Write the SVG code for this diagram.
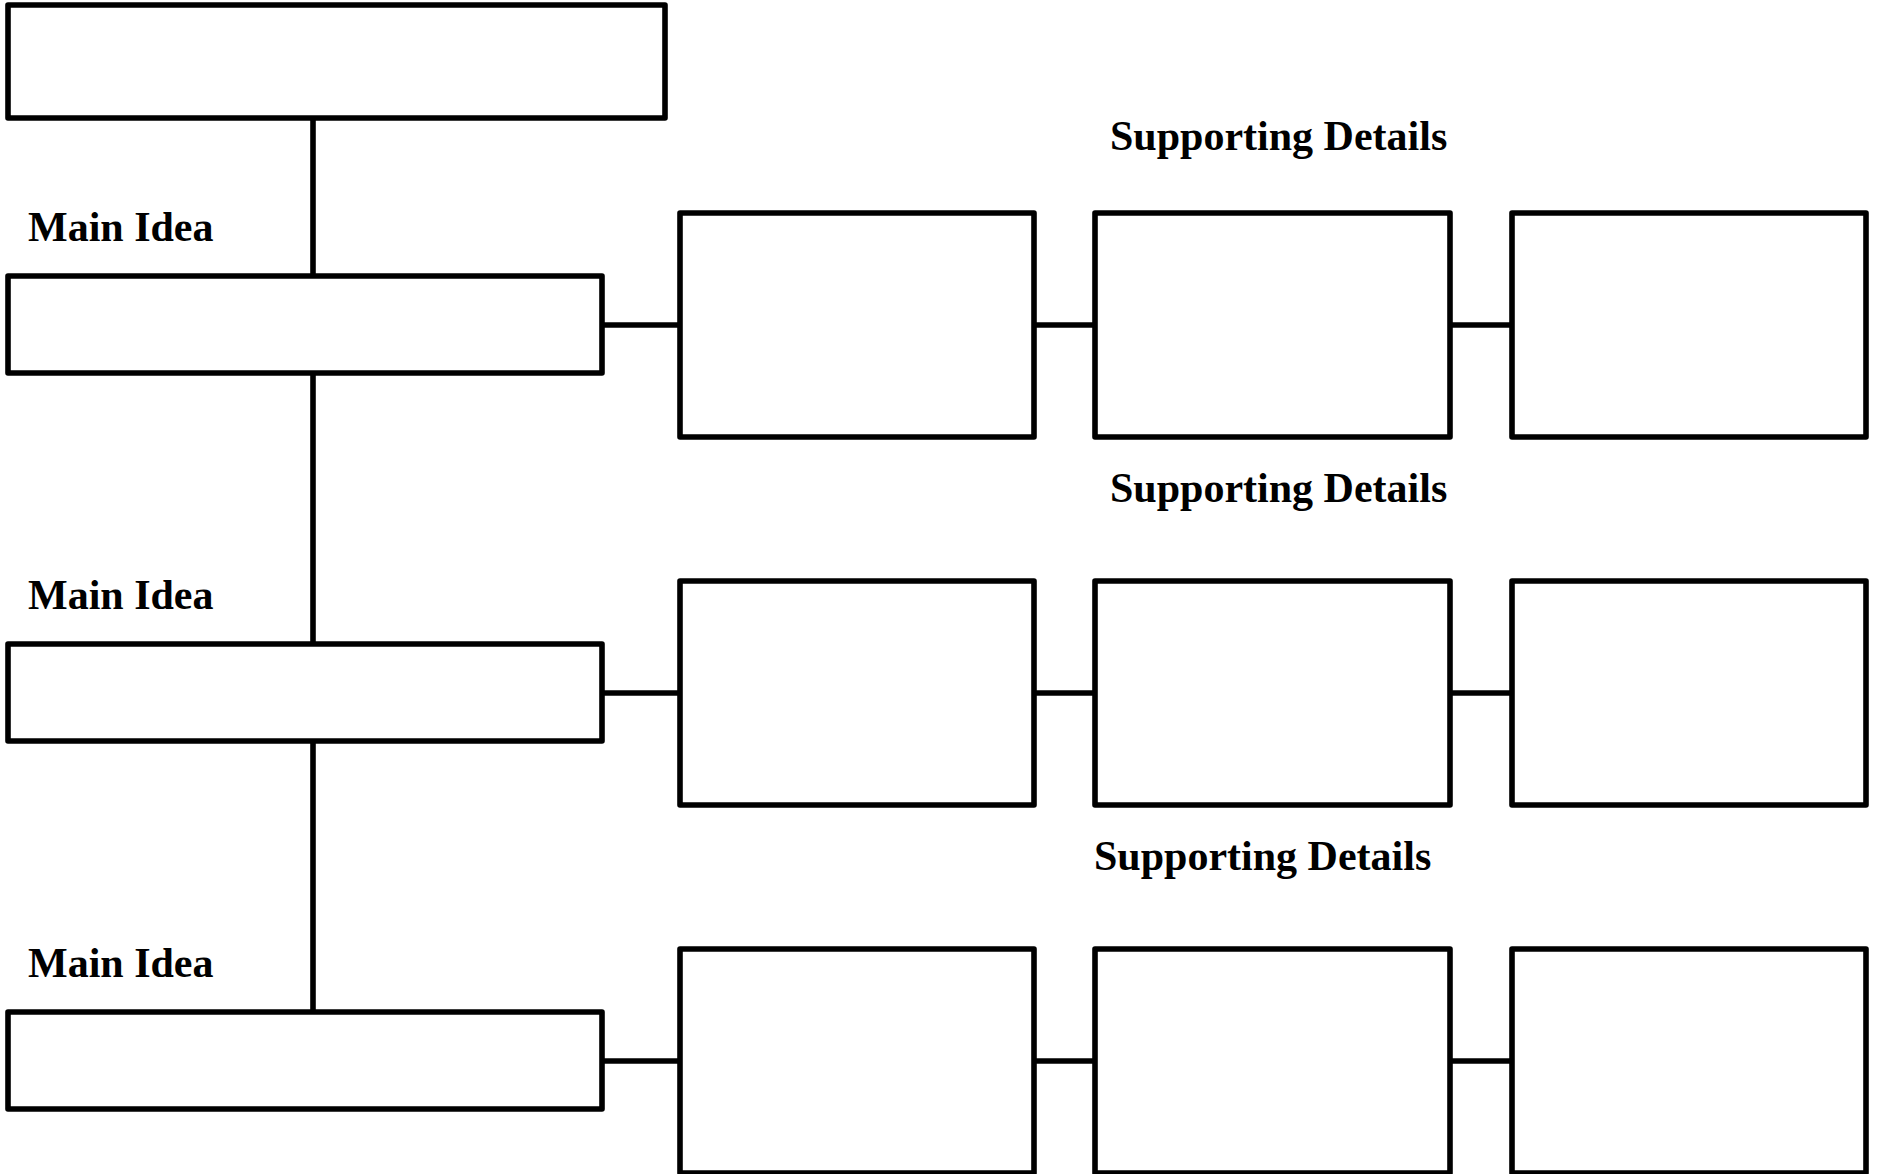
<svg xmlns="http://www.w3.org/2000/svg" width="1885" height="1174" viewBox="0 0 1885 1174">
<style>
.box{fill:#fff;stroke:#000;stroke-width:5.6;stroke-linejoin:round}
.con{stroke:#000;stroke-width:5.6;fill:none}
.lbl{font-family:"Liberation Serif","Times New Roman",serif;font-weight:bold;font-size:42px;fill:#000}
</style>
<rect width="1885" height="1174" fill="#fff"/>
<g id="connectors">
<line class="con" x1="313" y1="118" x2="313" y2="1012"/>
<line class="con" x1="602" y1="325" x2="680" y2="325"/>
<line class="con" x1="1034" y1="325" x2="1095" y2="325"/>
<line class="con" x1="1450" y1="325" x2="1512" y2="325"/>
<line class="con" x1="602" y1="693" x2="680" y2="693"/>
<line class="con" x1="1034" y1="693" x2="1095" y2="693"/>
<line class="con" x1="1450" y1="693" x2="1512" y2="693"/>
<line class="con" x1="602" y1="1061" x2="680" y2="1061"/>
<line class="con" x1="1034" y1="1061" x2="1095" y2="1061"/>
<line class="con" x1="1450" y1="1061" x2="1512" y2="1061"/>
</g>
<g id="title"><rect class="box" x="8" y="5" width="657" height="113"/></g>
<g id="main1"><text class="lbl" x="28" y="241">Main Idea</text><rect class="box" x="8" y="276" width="594" height="97"/></g>
<g id="main2"><text class="lbl" x="28" y="609">Main Idea</text><rect class="box" x="8" y="644" width="594" height="97"/></g>
<g id="main3"><text class="lbl" x="28" y="977">Main Idea</text><rect class="box" x="8" y="1012" width="594" height="97"/></g>
<g id="sd1"><text class="lbl" x="1110" y="150">Supporting Details</text></g>
<g id="sd2"><text class="lbl" x="1110" y="502">Supporting Details</text></g>
<g id="sd3"><text class="lbl" x="1094" y="870">Supporting Details</text></g>
<g id="d11"><rect class="box" x="680" y="213" width="354" height="224"/></g>
<g id="d12"><rect class="box" x="1095" y="213" width="355" height="224"/></g>
<g id="d13"><rect class="box" x="1512" y="213" width="354" height="224"/></g>
<g id="d21"><rect class="box" x="680" y="581" width="354" height="224"/></g>
<g id="d22"><rect class="box" x="1095" y="581" width="355" height="224"/></g>
<g id="d23"><rect class="box" x="1512" y="581" width="354" height="224"/></g>
<g id="d31"><rect class="box" x="680" y="949" width="354" height="224"/></g>
<g id="d32"><rect class="box" x="1095" y="949" width="355" height="224"/></g>
<g id="d33"><rect class="box" x="1512" y="949" width="354" height="224"/></g>
</svg>
